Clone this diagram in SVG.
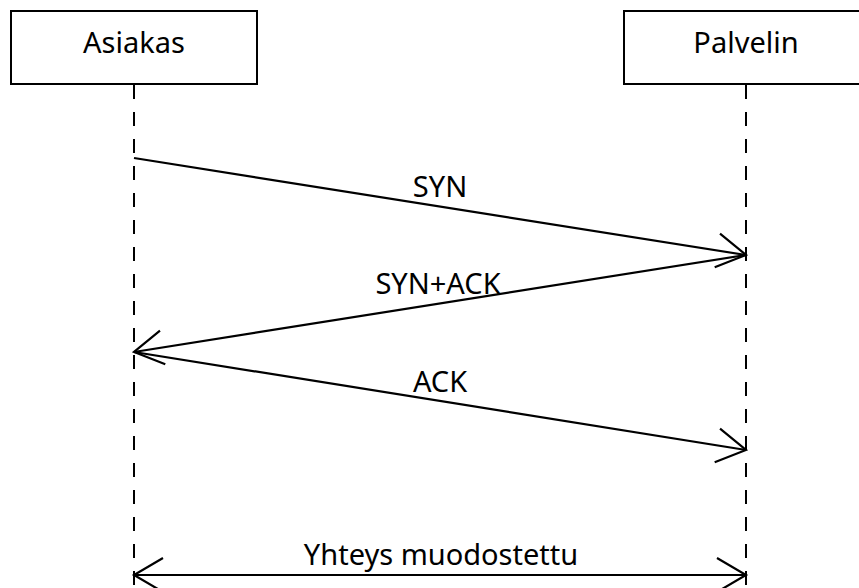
<svg xmlns="http://www.w3.org/2000/svg" width="859" height="588" viewBox="0 0 859 588">
<style>
.box{fill:#fff;stroke:#000;stroke-width:2}
.life{stroke:#000;stroke-width:2;stroke-dasharray:14 13;fill:none}
.msg{stroke:#000;stroke-width:2.2;fill:none}
text{font-family:"Noto Sans","Open Sans",sans-serif;font-size:29px;fill:#000;text-anchor:middle}
</style>
<defs>
<marker id="open" markerUnits="userSpaceOnUse" viewBox="-32 -20 36 40" refX="0" refY="0" markerWidth="36" markerHeight="40" orient="auto-start-reverse">
<path d="M-29,-17 L0,0 L-29,17" fill="none" stroke="#000" stroke-width="2.2"/>
</marker>
</defs>
<g id="asiakas">
<rect class="box" x="11" y="11" width="246" height="73"/>
<text x="134" y="53">Asiakas</text>
</g>
<g id="palvelin">
<rect class="box" x="624" y="11" width="246" height="73"/>
<text x="746" y="53">Palvelin</text>
</g>
<g id="connectors">
<line class="life" x1="134" y1="85" x2="134" y2="588"/>
<line class="life" x1="746" y1="85" x2="746" y2="588"/>
<line class="msg" x1="134" y1="158" x2="746" y2="255" marker-end="url(#open)"/>
<line class="msg" x1="746" y1="255" x2="134" y2="352" marker-end="url(#open)"/>
<line class="msg" x1="134" y1="352" x2="746" y2="450" marker-end="url(#open)"/>
<line class="msg" x1="134" y1="575" x2="746" y2="575" marker-start="url(#open)" marker-end="url(#open)"/>
<text x="440" y="197">SYN</text>
<text x="438" y="294">SYN+ACK</text>
<text x="440" y="392">ACK</text>
<text x="441" y="565">Yhteys muodostettu</text>
</g>
</svg>
